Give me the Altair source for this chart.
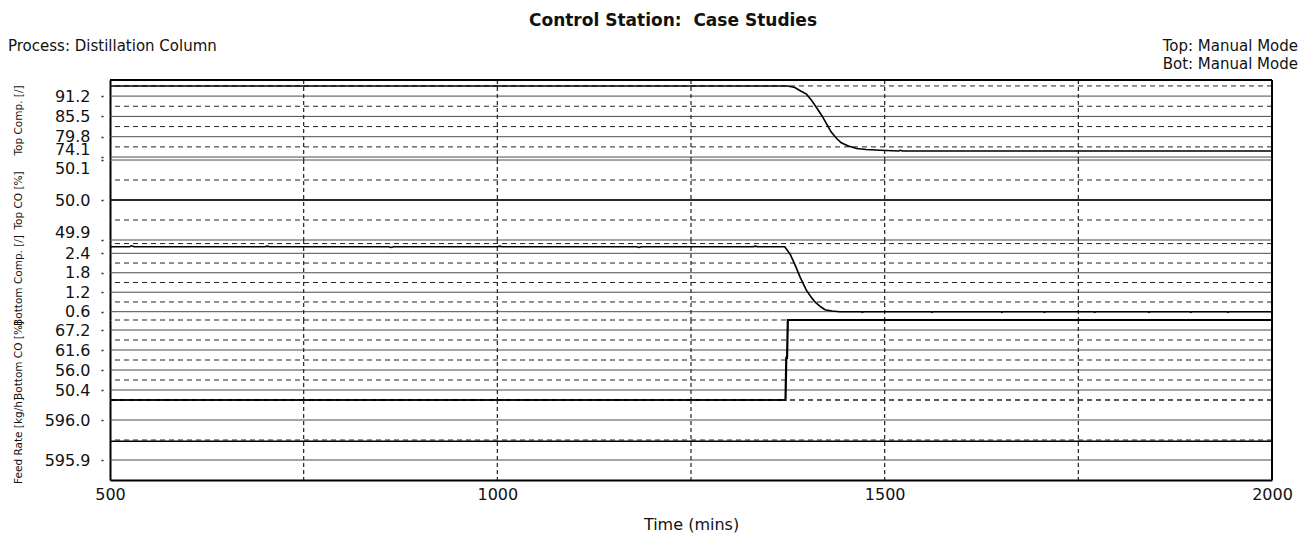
import altair as alt
import pandas as pd

FONT = "DejaVu Sans"

# ---------------- data ----------------
X_DOMAIN = [500, 2000]
X_TICKS = [500, 1000, 1500, 2000]
X_GRID = [750, 1000, 1250, 1500, 1750]

# Top Comp. [/]
TOP_COMP_T = [500, 1375, 1384, 1391, 1399, 1406, 1412, 1419, 1425, 1431, 1438, 1444, 1453,
              1464, 1476, 1494, 1518, 1520, 1523, 2000]
TOP_COMP_V = [94.05, 94.05, 93.6, 92.7, 91.75, 89.9, 88.0, 85.7, 83.4, 81.1, 79.3, 78.1, 77.2,
              76.5, 76.2, 76.0, 75.8, 76.0, 75.8, 75.8]
TOP_COMP_DOMAIN = [73.27, 95.72]
TOP_COMP_TICKS = [74.1, 79.8, 85.5, 91.2]
TOP_COMP_DASH = [76.95, 82.65, 88.35, 94.05]

# Top CO [%]
TOP_CO_T = [500, 2000]
TOP_CO_V = [50.0, 50.0]
TOP_CO_DOMAIN = [49.9, 50.1]
TOP_CO_TICKS = [49.9, 50.0, 50.1]
TOP_CO_DASH = [49.95, 50.05]

# Bottom Comp. [/]
BOT_COMP_T = [500, 525, 528, 531, 700, 703, 706, 860, 863, 866, 1000, 1003, 1006, 1180, 1183,
              1186, 1330, 1333, 1336, 1371, 1378, 1384, 1391, 1399, 1405, 1410, 1417, 1423,
              1432, 1442, 1470, 1471, 1473, 1560, 1561, 1563, 1650, 1651, 1653, 1705, 1706,
              1708, 1770, 1771, 1773, 1840, 1841, 1843, 1894, 1895, 1897, 1942, 1943, 1945,
              2000]
BOT_COMP_V = [2.6, 2.6, 2.63, 2.6, 2.6, 2.62, 2.6, 2.6, 2.58, 2.6, 2.6, 2.62, 2.6, 2.6, 2.58,
              2.6, 2.6, 2.62, 2.6, 2.6, 2.37, 2.06, 1.66, 1.26, 1.05, 0.9, 0.76, 0.66,
              0.62, 0.6, 0.6, 0.58, 0.6, 0.6, 0.58, 0.6, 0.6, 0.58, 0.6, 0.6, 0.58,
              0.6, 0.6, 0.58, 0.6, 0.6, 0.58, 0.6, 0.6, 0.58, 0.6, 0.6, 0.58, 0.6,
              0.6]
BOT_COMP_DOMAIN = [0.344, 2.81]
BOT_COMP_TICKS = [0.6, 1.2, 1.8, 2.4]
BOT_COMP_DASH = [0.9, 1.5, 2.1, 2.7]

# Bottom CO [%]
BOT_CO_T = [500, 1372, 1373, 1374, 1375, 2000]
BOT_CO_V = [47.6, 47.6, 59.4, 59.4, 70.0, 70.0]
BOT_CO_DOMAIN = [47.6, 70.0]
BOT_CO_TICKS = [50.4, 56.0, 61.6, 67.2]
BOT_CO_DASH = [47.6, 53.2, 58.8, 64.4, 70.0]

# Feed Rate [kg/h]
FEED_T = [500, 2000]
FEED_V = [595.947, 595.947]
FEED_DOMAIN = [595.85, 596.05]
FEED_TICKS = [595.9, 596.0]
FEED_DASH = [595.95, 596.05]

TITLE = "Control Station:\u00a0 Case Studies"
PROCESS = "Process: Distillation Column"
MODES = ["Top: Manual Mode", "Bot: Manual Mode"]

W = 1162
H = 80


def panel(name, t, v, domain, ticks, dashed, flush, top=False, bottom=False, lw=1.6):
    xscale = alt.Scale(domain=X_DOMAIN, nice=False, zero=False)
    yscale = alt.Scale(domain=domain, nice=False, zero=False)
    yaxis = alt.Axis(values=ticks, format=".1f", title=name, titleX=-87, titleY=H / 2,
                     titleAngle=-90, titleBaseline="bottom", titleAlign="center",
                     titleFont=FONT, titleFontSize=10.5, titleFontWeight="normal",
                     titleColor="#111", labelFont=FONT, labelFontSize=16, labelColor="#111",
                     labelPadding=11, tickSize=9, tickDash=[0, 7, 2, 10], tickColor="#222",
                     tickWidth=1.5, domainColor="#000", domainWidth=2, grid=False,
                     labelFlush=flush, labelOverlap=False)
    if bottom:
        xaxis = alt.Axis(values=X_TICKS, format="d", title="Time (mins)", labelFlush=False,
                         labelOverlap=False, ticks=False, labelPadding=6, titlePadding=14,
                         labelFont=FONT, labelFontSize=16, labelColor="#111",
                         titleFont=FONT, titleFontSize=16, titleFontWeight="normal",
                         titleColor="#111", domainColor="#000", domainWidth=2, grid=False)
    else:
        xaxis = None

    X = lambda f: alt.X(f, scale=xscale, axis=xaxis)
    Y = lambda f: alt.Y(f, scale=yscale, axis=yaxis)

    solid = alt.Chart(pd.DataFrame({"v": ticks})).mark_rule(
        color="#4a4a4a", strokeWidth=1).encode(y=Y("v:Q"))
    dash = alt.Chart(pd.DataFrame({"v": dashed})).mark_rule(
        color="#222", strokeWidth=1, strokeDash=[5, 4]).encode(y=Y("v:Q"))
    vgrid = alt.Chart(pd.DataFrame({"t": X_GRID})).mark_rule(
        color="#222", strokeWidth=1.2, strokeDash=[4, 3]).encode(x=X("t:Q"))
    right = alt.Chart(pd.DataFrame({"t": [X_DOMAIN[1]]})).mark_rule(
        color="#000", strokeWidth=2).encode(x=X("t:Q"))
    line = alt.Chart(pd.DataFrame({"t": t, "v": v})).mark_line(
        color="#000", strokeWidth=lw).encode(x=X("t:Q"), y=Y("v:Q"))
    layers = [solid, dash, vgrid, right, line]
    if top:
        topb = alt.Chart(pd.DataFrame({"v": [domain[1]]})).mark_rule(
            color="#000", strokeWidth=2).encode(y=Y("v:Q"))
        ttl = alt.Chart(pd.DataFrame({"s": [TITLE]})).mark_text(
            font=FONT, fontSize=17, fontWeight="bold", color="#111", align="center",
            baseline="middle").encode(text="s:N", x=alt.value(563), y=alt.value(-59))
        proc = alt.Chart(pd.DataFrame({"s": [PROCESS]})).mark_text(
            font=FONT, fontSize=15, color="#111", align="left",
            baseline="middle").encode(text="s:N", x=alt.value(-102), y=alt.value(-34))
        m1 = alt.Chart(pd.DataFrame({"s": [MODES[0]]})).mark_text(
            font=FONT, fontSize=15, color="#111", align="right",
            baseline="middle").encode(text="s:N", x=alt.value(1188), y=alt.value(-34))
        m2 = alt.Chart(pd.DataFrame({"s": [MODES[1]]})).mark_text(
            font=FONT, fontSize=15, color="#111", align="right",
            baseline="middle").encode(text="s:N", x=alt.value(1188), y=alt.value(-16))
        layers += [topb, ttl, proc, m1, m2]
    return alt.layer(*layers).properties(width=W, height=H)


p1 = panel("Top Comp. [/]", TOP_COMP_T, TOP_COMP_V, TOP_COMP_DOMAIN, TOP_COMP_TICKS,
           TOP_COMP_DASH, 4, top=True)
p2 = panel("Top CO [%]", TOP_CO_T, TOP_CO_V, TOP_CO_DOMAIN, TOP_CO_TICKS, TOP_CO_DASH, 2)
p3 = panel("Bottom Comp. [/]", BOT_COMP_T, BOT_COMP_V, BOT_COMP_DOMAIN, BOT_COMP_TICKS,
           BOT_COMP_DASH, False)
p4 = panel("Bottom CO [%]", BOT_CO_T, BOT_CO_V, BOT_CO_DOMAIN, BOT_CO_TICKS, BOT_CO_DASH,
           False, lw=2.2)
p5 = panel("Feed Rate [kg/h]", FEED_T, FEED_V, FEED_DOMAIN, FEED_TICKS, FEED_DASH, False,
           bottom=True)

chart = alt.vconcat(p1, p2, p3, p4, p5, spacing=0, bounds="flush").properties(
    padding={"left": 8, "top": 12, "right": 10, "bottom": 10},
    background="white",
).configure_view(stroke=None)

chart.save("out.html", embed_options={"renderer": "svg", "actions": False})
